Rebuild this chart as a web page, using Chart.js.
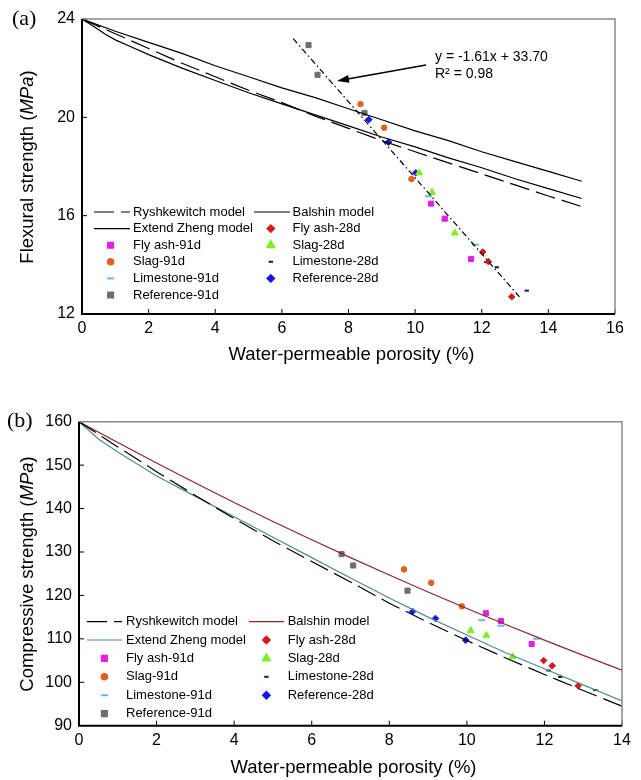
<!DOCTYPE html>
<html>
<head>
<meta charset="utf-8">
<script src="https://cdn.jsdelivr.net/npm/chart.js@4/dist/chart.umd.min.js"></script>
<style>
  body { margin: 0; background: #fff; }
  #wrap { position: relative; width: 641px; height: 780px; }
  canvas { position: absolute; left: 0; }
  #chartA { top: 0; }
  #chartB { top: 390px; }
</style>
</head>
<body>
<div id="wrap">
  <canvas id="chartA" width="641" height="380"></canvas>
  <canvas id="chartB" width="641" height="390"></canvas>
</div>
<script>
// ---- panel (a): flexural strength ----
const xModelA = [0, 1, 2, 3, 4, 5, 6, 7, 8, 9, 10, 11, 12, 13, 14, 15];
const balshinA = [24, 23.5, 23.05, 22.6, 22.1, 21.65, 21.2, 20.8, 20.35, 19.9, 19.45, 19.05, 18.6, 18.2, 17.8, 17.4];
const ryshA = [24, 23.4, 22.8, 22.2, 21.65, 21.1, 20.6, 20.05, 19.55, 19.05, 18.6, 18.15, 17.7, 17.25, 16.8, 16.37];
const zhengXA = [0, 0.4, 0.7, 1, 1.5, 2, 3, 4, 5, 6, 7, 8, 9, 10, 11, 12, 13, 14, 15];
const zhengA = [24, 23.65, 23.38, 23.15, 22.85, 22.55, 22.0, 21.5, 21.0, 20.55, 20.1, 19.65, 19.2, 18.8, 18.35, 17.95, 17.5, 17.1, 16.7];
const fitXA = [6.34, 13.13];
const fitA = [23.2, 12.7];

const flyAsh91A = [[10.48, 16.49], [10.89, 15.88], [11.68, 14.24]];
const slag91A = [[8.36, 20.54], [9.07, 19.58], [9.89, 17.49]];
const lime91A = [[10.40, 16.79], [10.89, 15.81], [11.81, 14.82]];
const ref91A = [[6.80, 22.94], [7.07, 21.73], [8.48, 20.18]];
const flyAsh28A = [[12.03, 14.52], [12.20, 14.13], [12.90, 12.70]];
const slag28A = [[10.12, 17.74], [10.51, 16.95], [11.19, 15.29]];
const lime28A = [[12.14, 14.11], [12.45, 13.90], [13.35, 12.95]];
const ref28A = [[8.61, 19.91], [9.20, 18.99], [10.02, 17.74]];

// ---- panel (b): compressive strength ----
const xModelB = [0, 1, 2, 3, 4, 5, 6, 7, 8, 9, 10, 11, 12, 13, 14];
const balshinB = [160, 155.2, 150.5, 145.9, 141.4, 137.0, 132.8, 128.7, 124.7, 120.8, 117.0, 113.3, 109.7, 106.2, 102.8];
const ryshB = [160, 154.2, 148.5, 143.0, 137.7, 132.6, 127.8, 123.1, 118.2, 113.8, 109.6, 105.6, 101.8, 98.1, 94.5];
const zhengXB = [0, 0.5, 1, 2, 3, 4, 5, 6, 7, 8, 9, 10, 11, 12, 13, 14];
const zhengB = [160, 156.0, 153.0, 147.5, 142.8, 138.1, 133.4, 128.7, 124.0, 119.4, 115.0, 110.9, 106.8, 103.1, 99.4, 95.7];

const flyAsh91B = [[10.49, 115.9], [10.88, 114.1], [11.67, 108.8]];
const slag91B = [[8.38, 126.0], [9.08, 122.9], [9.87, 117.5]];
const lime91B = [[10.38, 114.3], [10.88, 113.0], [11.80, 110.0]];
const ref91B = [[6.77, 129.5], [7.07, 126.9], [8.47, 121.1]];
const flyAsh28B = [[11.98, 105.0], [12.20, 103.8], [12.87, 99.2]];
const slag28B = [[10.10, 111.9], [10.50, 110.8], [11.18, 105.9]];
const lime28B = [[12.11, 102.7], [12.41, 101.2], [13.31, 98.2]];
const ref28B = [[8.60, 116.3], [9.19, 114.7], [9.97, 109.7]];

const legendOrder = [
  'Ryshkewitch model', 'Balshin model',
  'Extend Zheng model', 'Fly ash-28d',
  'Fly ash-91d', 'Slag-28d',
  'Slag-91d', 'Limestone-28d',
  'Limestone-91d', 'Reference-28d',
  'Reference-91d'
];

const FONT = "'Liberation Sans', Arial, Helvetica, sans-serif";
Chart.defaults.font.family = FONT;
Chart.defaults.font.size = 16;
Chart.defaults.color = '#000';

const toXY = (xs, ys) => xs.map((x, i) => ({ x: x, y: ys[i] }));
const toPts = pairs => pairs.map(p => ({ x: p[0], y: p[1] }));

function lineSet(label, xs, ys, color, dash) {
  return {
    label, data: toXY(xs, ys), showLine: true, pointRadius: 0,
    borderColor: color, borderWidth: 1.2, borderDash: dash || [], fill: false
  };
}
function pointSet(label, pts, color, style, r, bw) {
  return {
    label, data: toPts(pts), showLine: false, pointStyle: style,
    pointRadius: r, pointBorderWidth: bw || 1,
    backgroundColor: color, borderColor: color
  };
}

const COLORS = {
  fly91: '#e020e6', slag91: '#e0621e', lime91: '#6ab6ee', ref91: '#6e6e6e',
  fly28: '#d81818', slag28: '#7cf022', lime28: '#14146e', ref28: '#1414ee'
};
const RYSH_DASH = [20, 7];

function pointSets(fly91, slag91, lime91, ref91, fly28, slag28, lime28, ref28) {
  return [
    pointSet('Fly ash-91d', fly91, COLORS.fly91, 'rect', 3.6),
    pointSet('Slag-91d', slag91, COLORS.slag91, 'circle', 2.8),
    pointSet('Limestone-91d', lime91, COLORS.lime91, 'line', 3.5, 2),
    pointSet('Reference-91d', ref91, COLORS.ref91, 'rect', 3.6),
    pointSet('Fly ash-28d', fly28, COLORS.fly28, 'rectRot', 3.3),
    pointSet('Slag-28d', slag28, COLORS.slag28, 'triangle', 4),
    pointSet('Limestone-28d', lime28, COLORS.lime28, 'line', 2.2, 2),
    pointSet('Reference-28d', ref28, COLORS.ref28, 'rectRot', 3.3)
  ];
}

// extra drawing: frame, inner ticks, titles, legend, annotation
const decor = {
  id: 'decor',
  afterDraw(chart, args, o) {
    const ctx = chart.ctx, a = chart.chartArea;
    const xs = chart.scales.x, ys = chart.scales.y;
    ctx.save();
    ctx.strokeStyle = '#000';
    ctx.lineWidth = 1;
    xs.ticks.forEach(t => {
      const px = xs.getPixelForValue(t.value);
      ctx.beginPath(); ctx.moveTo(px, a.bottom); ctx.lineTo(px, a.bottom - 5); ctx.stroke();
    });
    ys.ticks.forEach(t => {
      const py = ys.getPixelForValue(t.value);
      ctx.beginPath(); ctx.moveTo(a.left, py); ctx.lineTo(a.left + 5, py); ctx.stroke();
    });
    ctx.strokeStyle = '#8a8a8a'; ctx.lineWidth = 1.5;
    ctx.beginPath(); ctx.moveTo(a.left, a.top); ctx.lineTo(a.right, a.top); ctx.lineTo(a.right, a.bottom); ctx.stroke();
    ctx.strokeStyle = '#000'; ctx.lineWidth = 2;
    ctx.beginPath(); ctx.moveTo(a.left, a.top); ctx.lineTo(a.left, a.bottom); ctx.lineTo(a.right, a.bottom); ctx.stroke();

    // panel letter
    ctx.fillStyle = '#000';
    ctx.font = "22px 'Liberation Serif', 'Times New Roman', serif";
    ctx.textBaseline = 'middle'; ctx.textAlign = 'left';
    ctx.fillText(o.letter, o.letterX, o.letterY);

    // x title
    ctx.font = '18.5px ' + FONT;
    ctx.textAlign = 'center';
    ctx.fillText(o.xTitle, (a.left + a.right) / 2 + 3, o.xTitleY);

    // y title with italic unit
    const parts = [[o.yTitle + ' (', ''], ['MPa', 'italic '], [')', '']];
    let total = 0;
    parts.forEach(p => { ctx.font = p[1] + '18.5px ' + FONT; total += ctx.measureText(p[0]).width; });
    ctx.translate(o.yTitleX, o.yTitleY);
    ctx.rotate(-Math.PI / 2);
    ctx.textAlign = 'left';
    let cx = -total / 2;
    parts.forEach(p => {
      ctx.font = p[1] + '18.5px ' + FONT;
      ctx.fillText(p[0], cx, 0);
      cx += ctx.measureText(p[0]).width;
    });
    ctx.setTransform(1, 0, 0, 1, 0, 0);

    // legend, two columns, row-major
    const L = o.legend;
    ctx.font = '13px ' + FONT;
    ctx.textAlign = 'left'; ctx.textBaseline = 'middle';
    legendOrder.forEach((label, i) => {
      const ds = chart.data.datasets.find(d => d.label === label);
      if (!ds) return;
      const col = i % 2, row = Math.floor(i / 2);
      const y = L.top + row * L.step;
      const c = L.cols[col];
      if (ds.showLine) {
        ctx.save();
        ctx.strokeStyle = ds.borderColor; ctx.lineWidth = ds.borderWidth;
        ctx.setLineDash(ds.borderDash);
        ctx.beginPath(); ctx.moveTo(c.line0, y); ctx.lineTo(c.line1, y); ctx.stroke();
        ctx.restore();
      } else {
        ctx.save();
        ctx.fillStyle = ds.backgroundColor; ctx.strokeStyle = ds.borderColor;
        Chart.helpers.drawPoint(ctx, {
          pointStyle: ds.pointStyle, radius: ds.pointRadius, rotation: 0, borderWidth: ds.pointBorderWidth
        }, c.mark, y);
        ctx.restore();
      }
      ctx.fillStyle = '#000';
      ctx.fillText(label, c.text, y);
    });

    // regression annotation
    if (o.note) {
      const n = o.note;
      ctx.font = '14px ' + FONT;
      ctx.fillText(n.eq, n.x, n.y1);
      ctx.fillText(n.r2, n.x, n.y2);
      const ang = Math.atan2(n.ay1 - n.ay0, n.ax1 - n.ax0);
      ctx.strokeStyle = '#000'; ctx.lineWidth = 1.5;
      ctx.beginPath(); ctx.moveTo(n.ax0, n.ay0); ctx.lineTo(n.ax1 - 8 * Math.cos(ang), n.ay1 - 8 * Math.sin(ang)); ctx.stroke();
      ctx.beginPath();
      ctx.moveTo(n.ax1, n.ay1);
      ctx.lineTo(n.ax1 - 12 * Math.cos(ang) + 4 * Math.sin(ang), n.ay1 - 12 * Math.sin(ang) - 4 * Math.cos(ang));
      ctx.lineTo(n.ax1 - 12 * Math.cos(ang) - 4 * Math.sin(ang), n.ay1 - 12 * Math.sin(ang) + 4 * Math.cos(ang));
      ctx.closePath(); ctx.fill();
    }
    ctx.restore();
  }
};

function makeChart(id, datasets, sc, pad, xH, deco) {
  return new Chart(document.getElementById(id), {
    type: 'scatter',
    data: { datasets },
    options: {
      responsive: false,
      animation: false,
      layout: { padding: pad },
      plugins: { legend: { display: false }, tooltip: { enabled: false }, decor: deco },
      scales: {
        x: {
          type: 'linear', min: sc.xMin, max: sc.xMax,
          grid: { display: false, drawTicks: false }, border: { display: false },
          ticks: { stepSize: sc.xStep, padding: 5, font: { size: 16 } },
          afterFit: s => { s.height = xH; }
        },
        y: {
          type: 'linear', min: sc.yMin, max: sc.yMax,
          grid: { display: false, drawTicks: false }, border: { display: false },
          ticks: { stepSize: sc.yStep, padding: 7, font: { size: 16 } },
          afterFit: s => { s.width = 50; }
        }
      }
    },
    plugins: [decor]
  });
}

const dataA = [
  lineSet('Ryshkewitch model', xModelA, ryshA, '#000', RYSH_DASH),
  lineSet('Balshin model', xModelA, balshinA, '#000'),
  lineSet('Extend Zheng model', zhengXA, zhengA, '#000'),
  { label: 'fit', data: toXY(fitXA, fitA), showLine: true, pointRadius: 0, borderColor: '#000', borderWidth: 1.2, borderDash: [6, 3, 1.5, 3] }
].concat(pointSets(flyAsh91A, slag91A, lime91A, ref91A, flyAsh28A, slag28A, lime28A, ref28A));

makeChart('chartA', dataA,
  { xMin: 0, xMax: 16, xStep: 2, yMin: 12, yMax: 24, yStep: 4 },
  { left: 32, right: 26, top: 19, bottom: 0 }, 66,
  {
    letter: '(a)', letterX: 12, letterY: 19,
    xTitle: 'Water-permeable porosity (%)', xTitleY: 355,
    yTitle: 'Flexural strength', yTitleX: 28, yTitleY: 167,
    legend: { top: 212, step: 16.6, cols: [{ line0: 94, line1: 130, mark: 110.6, text: 133 }, { line0: 254, line1: 290, mark: 270.8, text: 292.5 }] },
    note: { eq: 'y = -1.61x + 33.70', r2: 'R\u00B2 = 0.98', x: 435, y1: 57, y2: 74, ax0: 426, ay0: 65, ax1: 337, ay1: 81 }
  });

const dataB = [
  lineSet('Ryshkewitch model', xModelB, ryshB, '#000', RYSH_DASH),
  lineSet('Balshin model', xModelB, balshinB, '#8b2a2a'),
  lineSet('Extend Zheng model', zhengXB, zhengB, '#4a8f8f')
].concat(pointSets(flyAsh91B, slag91B, lime91B, ref91B, flyAsh28B, slag28B, lime28B, ref28B));

makeChart('chartB', dataB,
  { xMin: 0, xMax: 14, xStep: 2, yMin: 90, yMax: 160, yStep: 10 },
  { left: 29, right: 19, top: 31.7, bottom: 0 }, 54.3,
  {
    letter: '(b)', letterX: 7, letterY: 31,
    xTitle: 'Water-permeable porosity (%)', xTitleY: 378,
    yTitle: 'Compressive strength', yTitleX: 28, yTitleY: 184,
    legend: { top: 231.6, step: 18.4, cols: [{ line0: 87, line1: 122, mark: 104.4, text: 126 }, { line0: 249, line1: 284, mark: 266.4, text: 287.7 }] }
  });
</script>
</body>
</html>
